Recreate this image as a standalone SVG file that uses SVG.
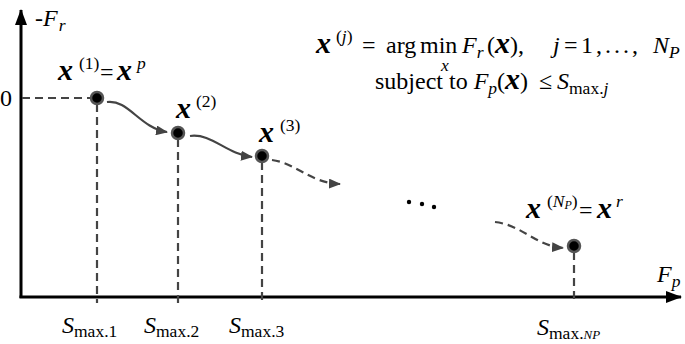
<svg xmlns="http://www.w3.org/2000/svg" width="685" height="344" viewBox="0 0 685 344">
<style>
text{font-family:'Liberation Serif',serif;font-size:24px;fill:#000}
.bi{font-weight:bold;font-style:italic;font-size:30px}
.i{font-style:italic}
.s{font-size:17.5px}
.axis{stroke:#000;stroke-width:3;fill:none}
.dash{stroke:#444;stroke-width:2.2;stroke-dasharray:8 5;fill:none}
.arc{stroke:#444;stroke-width:2.2;fill:none}
.pt{fill:#000;stroke:#555;stroke-width:2.5}
</style>
<defs>
<marker id="ah" markerWidth="12" markerHeight="10" refX="11" refY="5" orient="auto" markerUnits="userSpaceOnUse">
<path d="M0,0 L12,5 L0,10 Z" fill="#444"/>
</marker>
<marker id="axh" markerWidth="16" markerHeight="12" refX="15" refY="6" orient="auto" markerUnits="userSpaceOnUse">
<path d="M0,0 L16,6 L0,12 Z" fill="#000"/>
</marker>
</defs>
<g id="axes">
<line class="axis" x1="21" y1="298" x2="21" y2="10" marker-end="url(#axh)"/>
<line class="axis" x1="19.5" y1="297" x2="681" y2="297" marker-end="url(#axh)"/>
<text x="35" y="26"><tspan class="i">-F</tspan><tspan class="i s" dx="1" dy="5">r</tspan></text>
<text x="0" y="106">0</text>
<text x="657" y="282"><tspan class="i">F</tspan><tspan class="i s" dy="5">p</tspan></text>
</g>
<g id="connectors">
<line class="dash" x1="22" y1="98" x2="91" y2="98"/>
<line class="dash" x1="97" y1="104" x2="97" y2="303"/>
<line class="dash" x1="178" y1="139" x2="178" y2="303"/>
<line class="dash" x1="262" y1="162" x2="262" y2="303"/>
<line class="dash" x1="574" y1="252" x2="574" y2="303"/>
<path class="arc" d="M107,102 C128,99 140,128 167,132" marker-end="url(#ah)"/>
<path class="arc" d="M190,136 C212,133 226,154 252,157" marker-end="url(#ah)"/>
<path class="dash" d="M272,160 C296,163 310,183 340,184" marker-end="url(#ah)"/>
<path class="dash" d="M495,222 C522,225 536,246 563,248" marker-end="url(#ah)"/>
</g>
<g id="p1">
<circle class="pt" cx="97" cy="98" r="6"/>
<text x="58" y="80"><tspan class="bi">x</tspan><tspan class="s" x="79" dy="-11">(1)</tspan><tspan x="100" dy="11">=</tspan><tspan class="bi" x="117">x</tspan><tspan class="i s" x="137" dy="-11">p</tspan></text>
</g>
<g id="p2">
<circle class="pt" cx="178" cy="133" r="6"/>
<text x="176" y="118"><tspan class="bi">x</tspan><tspan class="s" x="196" dy="-11">(2)</tspan></text>
</g>
<g id="p3">
<circle class="pt" cx="262" cy="156" r="6"/>
<text x="259" y="142"><tspan class="bi">x</tspan><tspan class="s" x="280" dy="-11">(3)</tspan></text>
</g>
<g id="ellipsis">
<circle cx="409" cy="202" r="2.2" fill="#000"/>
<circle cx="422" cy="204" r="2.2" fill="#000"/>
<circle cx="434" cy="207" r="2.2" fill="#000"/>
</g>
<g id="p4">
<circle class="pt" cx="574" cy="246" r="6"/>
<text x="526" y="218"><tspan class="bi">x</tspan><tspan class="s" x="547" dy="-11">(</tspan><tspan class="i s">N</tspan><tspan class="i" font-size="12" dy="2">P</tspan><tspan class="s" dy="-2">)</tspan><tspan x="579" dy="11">=</tspan><tspan class="bi" x="597">x</tspan><tspan class="i s" x="616" dy="-11">r</tspan></text>
</g>
<g id="formula">
<text x="316" y="53"><tspan class="bi">x</tspan><tspan class="s" x="336" dy="-11">(</tspan><tspan class="i s">j</tspan><tspan class="s">)</tspan><tspan x="362" dy="11">=</tspan><tspan x="386">arg</tspan><tspan x="420">min</tspan><tspan x="462" class="i">F</tspan><tspan class="i s" dy="5">r</tspan><tspan x="487" dy="-5">(</tspan><tspan class="bi">x</tspan><tspan>),</tspan><tspan x="553" class="i">j</tspan><tspan x="564">=</tspan><tspan x="581" letter-spacing="3">1,...,</tspan><tspan x="653" class="i">N</tspan><tspan class="i s" dy="5">P</tspan></text>
<text class="i s" x="441" y="71">x</text>
<text x="375" y="89"><tspan>subject to </tspan><tspan class="i">F</tspan><tspan class="i s" dy="5">p</tspan><tspan dy="-5">(</tspan><tspan class="bi">x</tspan><tspan>)</tspan><tspan x="539">≤</tspan><tspan x="557" class="i">S</tspan><tspan class="s" dy="5">max.</tspan><tspan class="i s">j</tspan></text>
</g>
<g id="ticks">
<text x="62" y="333"><tspan class="i">S</tspan><tspan class="s" dy="4">max.1</tspan></text>
<text x="144" y="333"><tspan class="i">S</tspan><tspan class="s" dy="4">max.2</tspan></text>
<text x="229" y="333"><tspan class="i">S</tspan><tspan class="s" dy="4">max.3</tspan></text>
<text x="537" y="335"><tspan class="i">S</tspan><tspan class="s" dy="4">max.</tspan><tspan class="i" font-size="13">NP</tspan></text>
</g>
</svg>
